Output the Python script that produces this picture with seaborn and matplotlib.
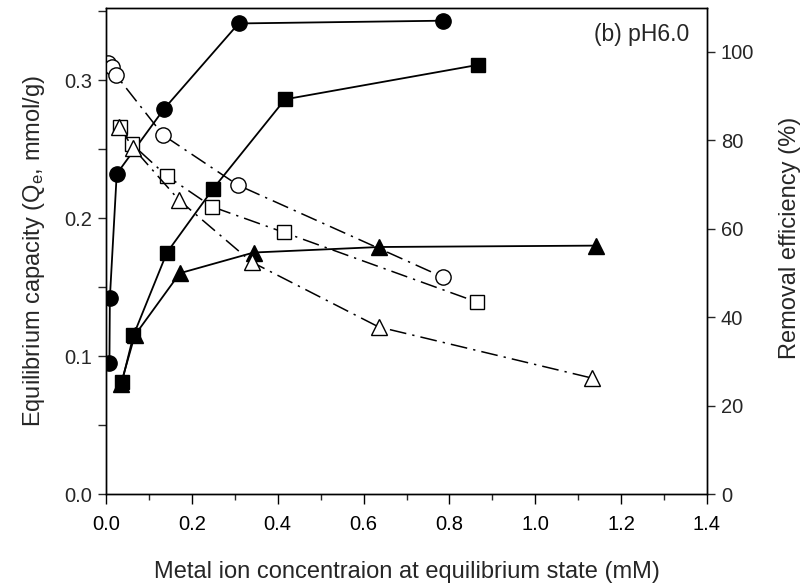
import numpy as np
import pandas as pd
import matplotlib
matplotlib.use("Agg")
import matplotlib.pyplot as plt
import seaborn as sns
from matplotlib.ticker import MultipleLocator, FormatStrFormatter

# ---- data ----
# capacity (left axis, mmol/g) -- filled markers
cap_circle_x = [0.008, 0.009, 0.025, 0.135, 0.309, 0.784]
cap_circle_y = [0.095, 0.142, 0.232, 0.279, 0.341, 0.343]
cap_square_x = [0.037, 0.064, 0.142, 0.249, 0.417, 0.867]
cap_square_y = [0.081, 0.115, 0.175, 0.221, 0.286, 0.311]
cap_tri_x = [0.035, 0.067, 0.172, 0.344, 0.637, 1.142]
cap_tri_y = [0.080, 0.115, 0.160, 0.175, 0.179, 0.180]
# removal efficiency (right axis, %) -- open markers
eff_circle_x = [0.004, 0.013, 0.023, 0.133, 0.307, 0.784]
eff_circle_y = [97.5, 96.6, 94.8, 81.2, 69.9, 49.1]
eff_square_x = [0.033, 0.060, 0.141, 0.247, 0.414, 0.865]
eff_square_y = [83.0, 79.2, 72.0, 65.0, 59.2, 43.4]
eff_tri_x = [0.031, 0.063, 0.170, 0.339, 0.635, 1.133]
eff_tri_y = [83.1, 78.3, 66.5, 52.5, 37.8, 26.2]

sns.set_theme(style="ticks")
plt.rcParams["font.family"] = ["Liberation Sans", "DejaVu Sans"]
plt.rcParams["mathtext.fontset"] = "custom"
plt.rcParams["mathtext.rm"] = "Liberation Sans"
plt.rcParams["mathtext.it"] = "Liberation Sans"

fig = plt.figure(figsize=(8.04, 5.84), dpi=100)
ax = fig.add_axes([106/804, 90/584, 601/804, 486/584])
ax2 = ax.twinx()

solid = dict(color="black", linewidth=1.3, estimator=None, sort=False, legend=False)
dashdot = dict(color="black", linewidth=1.1, estimator=None, sort=False, legend=False)

def plot(axis, xs, ys, marker, ms, filled, kw):
    df = pd.DataFrame({"x": xs, "y": ys})
    sns.lineplot(data=df, x="x", y="y", ax=axis, marker=marker, markersize=ms,
                 markerfacecolor="black" if filled else "white",
                 markeredgecolor="black", markeredgewidth=1.0, **kw)
    return axis.lines[-1]

plot(ax, cap_circle_x, cap_circle_y, "o", 11, True, solid)
plot(ax, cap_square_x, cap_square_y, "s", 9.5, True, solid)
plot(ax, cap_tri_x, cap_tri_y, "^", 11, True, solid)
for xs, ys, m, ms in [(eff_circle_x, eff_circle_y, "o", 11),
                      (eff_square_x, eff_square_y, "s", 9.5),
                      (eff_tri_x, eff_tri_y, "^", 11)]:
    ln = plot(ax2, xs, ys, m, ms, False, dashdot)
    ln.set_linestyle((0, (11, 4, 1.5, 4)))

ax.set_xlim(0, 1.4)
ax.set_ylim(0, 0.3522)
ax2.set_ylim(0, 109.95)

ax.xaxis.set_major_locator(MultipleLocator(0.2))
ax.xaxis.set_minor_locator(MultipleLocator(0.1))
ax.xaxis.set_major_formatter(FormatStrFormatter("%.1f"))
ax.yaxis.set_major_locator(MultipleLocator(0.1))
ax.yaxis.set_minor_locator(MultipleLocator(0.05))
ax.yaxis.set_major_formatter(FormatStrFormatter("%.1f"))
ax2.yaxis.set_major_locator(MultipleLocator(20))

tfs = 14.5
ax.tick_params(axis="x", which="major", direction="out", length=7, width=1, labelsize=tfs, pad=8, colors="black")
ax.tick_params(axis="x", which="minor", direction="out", length=4, width=1)
ax.tick_params(axis="y", which="major", direction="out", length=6, width=1, labelsize=tfs, pad=4)
ax.tick_params(axis="y", which="minor", direction="out", length=6, width=1)
ax2.tick_params(axis="y", which="major", direction="out", length=6, width=1, labelsize=tfs, pad=4)

for a in (ax, ax2):
    for s in a.spines.values():
        s.set_visible(True)
        s.set_color("black")
        s.set_linewidth(1.0)

lfs = 17
ax.set_xlabel("Metal ion concentraion at equilibrium state (mM)", fontsize=lfs)
ax.xaxis.set_label_coords(0.5, -78/486)
ax.xaxis.label.set_va("center")
ax.set_ylabel("Equilibrium capacity (Q$_\\mathrm{e}$, mmol/g)", fontsize=lfs)
ax.yaxis.set_label_coords(-72/601, 0.5)
ax.yaxis.label.set_va("center")
ax2.set_ylabel("Removal efficiency (%)", fontsize=lfs, rotation=90)
ax2.yaxis.set_label_coords(1 + 83/601, 0.527)
ax2.yaxis.label.set_va("center")

ax.text(0.97, 0.945, "(b) pH6.0", transform=ax.transAxes, ha="right", va="center", fontsize=16.5)

fig.savefig("out.png", dpi=100)
